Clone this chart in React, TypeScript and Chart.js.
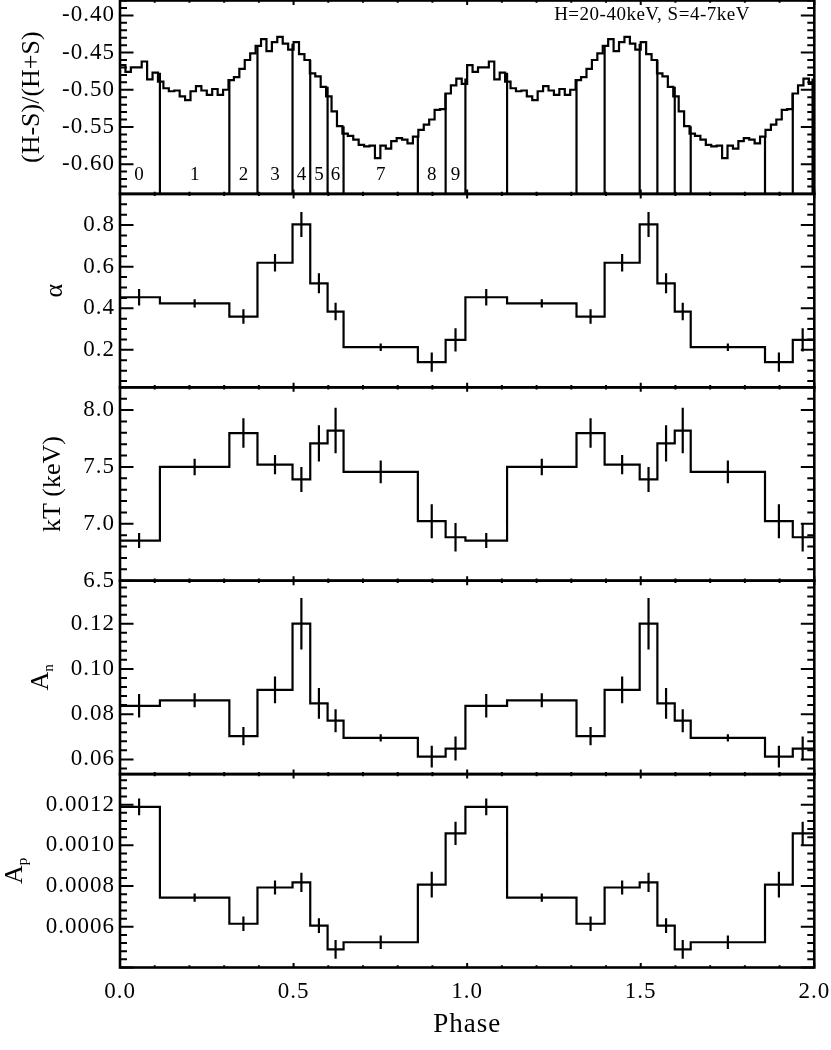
import React, { useEffect, useRef } from 'react';
import { Chart, registerables } from 'chart.js';

Chart.register(...registerables);

const SERIF = '"Liberation Serif", "Times New Roman", serif';

// (H-S)/(H+S) folded on one pulse period, 64 phase bins
const hardnessRatio = [
  -0.467, -0.476, -0.470, -0.470, -0.462, -0.486, -0.477, -0.489,
  -0.498, -0.502, -0.501, -0.509, -0.514, -0.502, -0.495, -0.501,
  -0.507, -0.499, -0.507, -0.500, -0.487, -0.483, -0.472, -0.460,
  -0.451, -0.441, -0.432, -0.448, -0.436, -0.429, -0.438, -0.446,
  -0.436, -0.452, -0.460, -0.478, -0.482, -0.496, -0.509, -0.529,
  -0.549, -0.559, -0.562, -0.567, -0.574, -0.576, -0.575, -0.592,
  -0.575, -0.579, -0.569, -0.565, -0.567, -0.572, -0.563, -0.554,
  -0.547, -0.540, -0.527, -0.526, -0.505, -0.494, -0.485, -0.492,
];

// phase intervals of the resolved spectra (interval 0 wraps through phase 0)
const intervalEdges = [-0.005, 0.115, 0.315, 0.396, 0.497, 0.548, 0.598, 0.644, 0.858, 0.938, 0.995];
const intervalNames = ['0', '1', '2', '3', '4', '5', '6', '7', '8', '9'];

const alphaVals = [0.453, 0.424, 0.36, 0.619, 0.803, 0.52, 0.384, 0.213, 0.141, 0.248];
const alphaErr = [0.04, 0.02, 0.035, 0.042, 0.06, 0.048, 0.042, 0.018, 0.046, 0.056];
const kTVals = [6.853, 7.5, 7.798, 7.52, 7.39, 7.707, 7.82, 7.457, 7.023, 6.882];
const kTErr = [0.066, 0.073, 0.13, 0.085, 0.11, 0.16, 0.2, 0.1, 0.15, 0.126];
const aNVals = [0.0837, 0.0861, 0.0703, 0.0907, 0.12, 0.0848, 0.0771, 0.0695, 0.0612, 0.0648];
const aNErr = [0.0052, 0.0031, 0.004, 0.0059, 0.0114, 0.0068, 0.0051, 0.0016, 0.0048, 0.0053];
const aPVals = [0.001189, 0.000743, 0.000615, 0.000793, 0.000818, 0.000606, 0.000489, 0.000524, 0.000807, 0.001059];
const aPErr = [0.000041, 0.00002, 0.000036, 0.000034, 0.000047, 0.000036, 0.000046, 0.000033, 0.000063, 0.000057];

const phaseTicks = [0, 0.5, 1, 1.5, 2];
const hrTicks = [-0.6, -0.55, -0.5, -0.45, -0.4];
const alphaTicks = [0.2, 0.4, 0.6, 0.8];
const kTTicks = [6.5, 7, 7.5, 8];
const aNTicks = [0.06, 0.08, 0.1, 0.12];
const aPTicks = [0.0006, 0.0008, 0.001, 0.0012];

const bandNote = 'H=20-40keV, S=4-7keV';
const xTitle = 'Phase';

type Panel = {
  id: string; title: string; sub?: string; min: number; max: number;
  ticks: number[]; minor: number; digits: number; titleX: number;
};

const panels: Panel[] = [
  { id: 'yHR', title: '(H-S)/(H+S)', min: -0.64, max: -0.38, ticks: hrTicks, minor: 0.01, digits: 2, titleX: 32 },
  { id: 'yAlpha', title: 'α', min: 0.02, max: 0.95, ticks: alphaTicks, minor: 0.05, digits: 1, titleX: 55 },
  { id: 'yKT', title: 'kT (keV)', min: 6.5, max: 8.2, ticks: kTTicks, minor: 0.1, digits: 1, titleX: 53 },
  { id: 'yAN', title: 'A', sub: 'n', min: 0.0535, max: 0.139, ticks: aNTicks, minor: 0.004, digits: 2, titleX: 41 },
  { id: 'yAP', title: 'A', sub: 'p', min: 0.0004, max: 0.00135, ticks: aPTicks, minor: 0.00004, digits: 4, titleX: 15 },
];

const CYCLES = 2;

// histogram steps for the 10 intervals, repeated over two cycles
function intervalSteps(values: number[]) {
  const pts: { x: number; y: number }[] = [];
  for (let c = 0; c < CYCLES; c++) {
    values.forEach((v, i) => pts.push({ x: Math.max(0, intervalEdges[i] + c), y: v }));
  }
  pts.push({ x: CYCLES, y: values[values.length - 1] });
  return pts;
}

function intervalErrors(values: number[], errs: number[]) {
  const pts: { x: number; y: number | null }[] = [];
  for (let c = 0; c < CYCLES; c++) {
    values.forEach((v, i) => {
      const x = (intervalEdges[i] + intervalEdges[i + 1]) / 2 + c;
      pts.push({ x, y: v - errs[i] }, { x, y: v + errs[i] }, { x, y: null });
    });
  }
  return pts;
}

function hardnessSteps() {
  const n = hardnessRatio.length;
  const pts: { x: number; y: number }[] = [];
  for (let k = 0; k < n * CYCLES; k++) pts.push({ x: k / n, y: hardnessRatio[k % n] });
  pts.push({ x: CYCLES, y: hardnessRatio[n - 1] });
  return pts;
}

function hardnessAt(phase: number) {
  const n = hardnessRatio.length;
  const k = Math.floor((((phase % 1) + 1) % 1) * n);
  return Math.max(hardnessRatio[k], hardnessRatio[(k + n - 1) % n]);
}

function intervalDividers() {
  const pts: { x: number; y: number | null }[] = [];
  for (let c = 0; c < CYCLES; c++) {
    for (let i = 1; i < intervalEdges.length; i++) {
      const x = intervalEdges[i] + c;
      pts.push({ x, y: hardnessAt(intervalEdges[i]) }, { x, y: panels[0].min }, { x, y: null });
    }
  }
  return pts;
}

const lineStyle = {
  borderColor: '#000',
  borderWidth: 2.2,
  pointRadius: 0,
  tension: 0,
  spanGaps: false,
};

const panelDecor = {
  id: 'panelDecor',
  beforeDraw(chart: any) {
    chart.ctx.letterSpacing = '1px';
  },
  afterDraw(chart: any) {
    const { ctx, chartArea } = chart;
    const { left, right } = chartArea;
    const xs = chart.scales.x;
    ctx.save();
    ctx.strokeStyle = '#000';
    ctx.fillStyle = '#000';
    ctx.lineCap = 'butt';

    panels.forEach((p) => {
      const s = chart.scales[p.id];
      const top = s.top;
      const bottom = s.bottom;
      const majorStep = p.ticks[1] - p.ticks[0];

      // inward y ticks on both sides
      ctx.lineWidth = 2;
      const k0 = Math.ceil(p.min / p.minor - 1e-6);
      const k1 = Math.floor(p.max / p.minor + 1e-6);
      for (let k = k0; k <= k1; k++) {
        const v = k * p.minor;
        const r = v / majorStep;
        const major = Math.abs(r - Math.round(r)) < 1e-4;
        const len = major ? 13.5 : 7;
        const y = s.getPixelForValue(v);
        ctx.beginPath();
        ctx.moveTo(left, y);
        ctx.lineTo(left + len, y);
        ctx.moveTo(right, y);
        ctx.lineTo(right - len, y);
        ctx.stroke();
      }

      // inward x ticks on top and bottom of each panel
      for (let k = 0; k <= 20; k++) {
        const v = k / 10;
        const major = k % 5 === 0;
        const len = major ? 4.5 : 2.2;
        const x = xs.getPixelForValue(v);
        ctx.beginPath();
        ctx.moveTo(x, top);
        ctx.lineTo(x, top + len);
        ctx.moveTo(x, bottom);
        ctx.lineTo(x, bottom - len);
        ctx.stroke();
      }

      ctx.lineWidth = 2.6;
      ctx.strokeRect(left, top, right - left, bottom - top);

      // rotated y title, with optional subscript
      const cy = (top + bottom) / 2;
      ctx.save();
      ctx.translate(p.titleX, cy);
      ctx.rotate(-Math.PI / 2);
      ctx.letterSpacing = '0px';
      ctx.textBaseline = 'middle';
      ctx.textAlign = 'left';
      const mainFont = `26px ${SERIF}`;
      const subFont = `15px ${SERIF}`;
      ctx.font = mainFont;
      const w1 = ctx.measureText(p.title).width;
      let w2 = 0;
      if (p.sub) {
        ctx.font = subFont;
        w2 = ctx.measureText(p.sub).width;
      }
      const start = -(w1 + w2) / 2;
      ctx.font = mainFont;
      ctx.fillText(p.title, start, 0);
      if (p.sub) {
        ctx.font = subFont;
        ctx.fillText(p.sub, start + w1, 8);
      }
      ctx.restore();
    });

    // interval numbers in the hardness panel
    const hr = chart.scales[panels[0].id];
    ctx.font = `19px ${SERIF}`;
    ctx.letterSpacing = '0px';
    ctx.textAlign = 'center';
    ctx.textBaseline = 'middle';
    const ly = hr.getPixelForValue(-0.614);
    intervalNames.forEach((name, i) => {
      const x = xs.getPixelForValue((intervalEdges[i] + intervalEdges[i + 1]) / 2);
      ctx.fillText(name, x, ly);
    });

    ctx.font = `19px ${SERIF}`;
    ctx.letterSpacing = '0.5px';
    ctx.fillText(bandNote, 652, 15);
    ctx.restore();
  },
};

const App: React.FC = () => {
  const canvasRef = useRef<HTMLCanvasElement>(null);
  const chartRef = useRef<Chart | null>(null);

  useEffect(() => {
    if (!canvasRef.current) return;
    if (chartRef.current) chartRef.current.destroy();

    const yScales: Record<string, any> = {};
    panels.forEach((p, i) => {
      yScales[p.id] = {
        type: 'linear',
        position: 'left',
        stack: 'panels',
        stackWeight: 1,
        weight: panels.length - i,
        min: p.min,
        max: p.max,
        grid: { display: false, drawTicks: false },
        border: { display: false },
        afterBuildTicks: (scale: any) => {
          scale.ticks = p.ticks.map((v) => ({ value: v }));
        },
        afterFit: (scale: any) => {
          scale.width = 120;
          scale.paddingTop = 0;
          scale.paddingBottom = 0;
        },
        ticks: {
          color: '#000',
          padding: 5,
          autoSkip: false,
          font: { family: SERIF, size: 23 },
          callback: (v: any) => Number(v).toFixed(p.digits),
        },
      };
    });

    const datasets: any[] = [
      { ...lineStyle, data: hardnessSteps(), yAxisID: 'yHR', stepped: true },
      { ...lineStyle, data: intervalDividers(), yAxisID: 'yHR' },
      { ...lineStyle, data: intervalSteps(alphaVals), yAxisID: 'yAlpha', stepped: true },
      { ...lineStyle, data: intervalErrors(alphaVals, alphaErr), yAxisID: 'yAlpha' },
      { ...lineStyle, data: intervalSteps(kTVals), yAxisID: 'yKT', stepped: true },
      { ...lineStyle, data: intervalErrors(kTVals, kTErr), yAxisID: 'yKT' },
      { ...lineStyle, data: intervalSteps(aNVals), yAxisID: 'yAN', stepped: true },
      { ...lineStyle, data: intervalErrors(aNVals, aNErr), yAxisID: 'yAN' },
      { ...lineStyle, data: intervalSteps(aPVals), yAxisID: 'yAP', stepped: true },
      { ...lineStyle, data: intervalErrors(aPVals, aPErr), yAxisID: 'yAP' },
    ];

    chartRef.current = new Chart(canvasRef.current, {
      type: 'line',
      data: { datasets },
      options: {
        responsive: false,
        animation: false,
        devicePixelRatio: 1,
        layout: { padding: { left: 0, right: 16.7, top: 0.5, bottom: 0 } },
        plugins: {
          legend: { display: false },
          tooltip: { enabled: false },
        },
        scales: {
          x: {
            type: 'linear',
            position: 'bottom',
            min: 0,
            max: CYCLES,
            grid: { display: false, drawTicks: false },
            border: { display: false },
            afterBuildTicks: (scale: any) => {
              scale.ticks = phaseTicks.map((v) => ({ value: v }));
            },
            afterFit: (scale: any) => {
              scale.height = 82.5;
              scale.paddingLeft = 0;
              scale.paddingRight = 0;
            },
            ticks: {
              color: '#000',
              padding: 11,
              maxRotation: 0,
              autoSkip: false,
              font: { family: SERIF, size: 23 },
              callback: (v: any) => Number(v).toFixed(1),
            },
            title: {
              display: true,
              text: xTitle,
              color: '#000',
              font: { family: SERIF, size: 27 },
              padding: { top: 0, bottom: 9 },
            },
          },
          ...yScales,
        },
      } as any,
      plugins: [panelDecor],
    });

    return () => {
      if (chartRef.current) {
        chartRef.current.destroy();
        chartRef.current = null;
      }
    };
  }, []);

  return (
    <div style={{ position: 'absolute', left: 0, top: 0, width: 831, height: 1050, background: '#fff' }}>
      <canvas ref={canvasRef} width={831} height={1050} style={{ display: 'block' }} />
    </div>
  );
};

export default App;
